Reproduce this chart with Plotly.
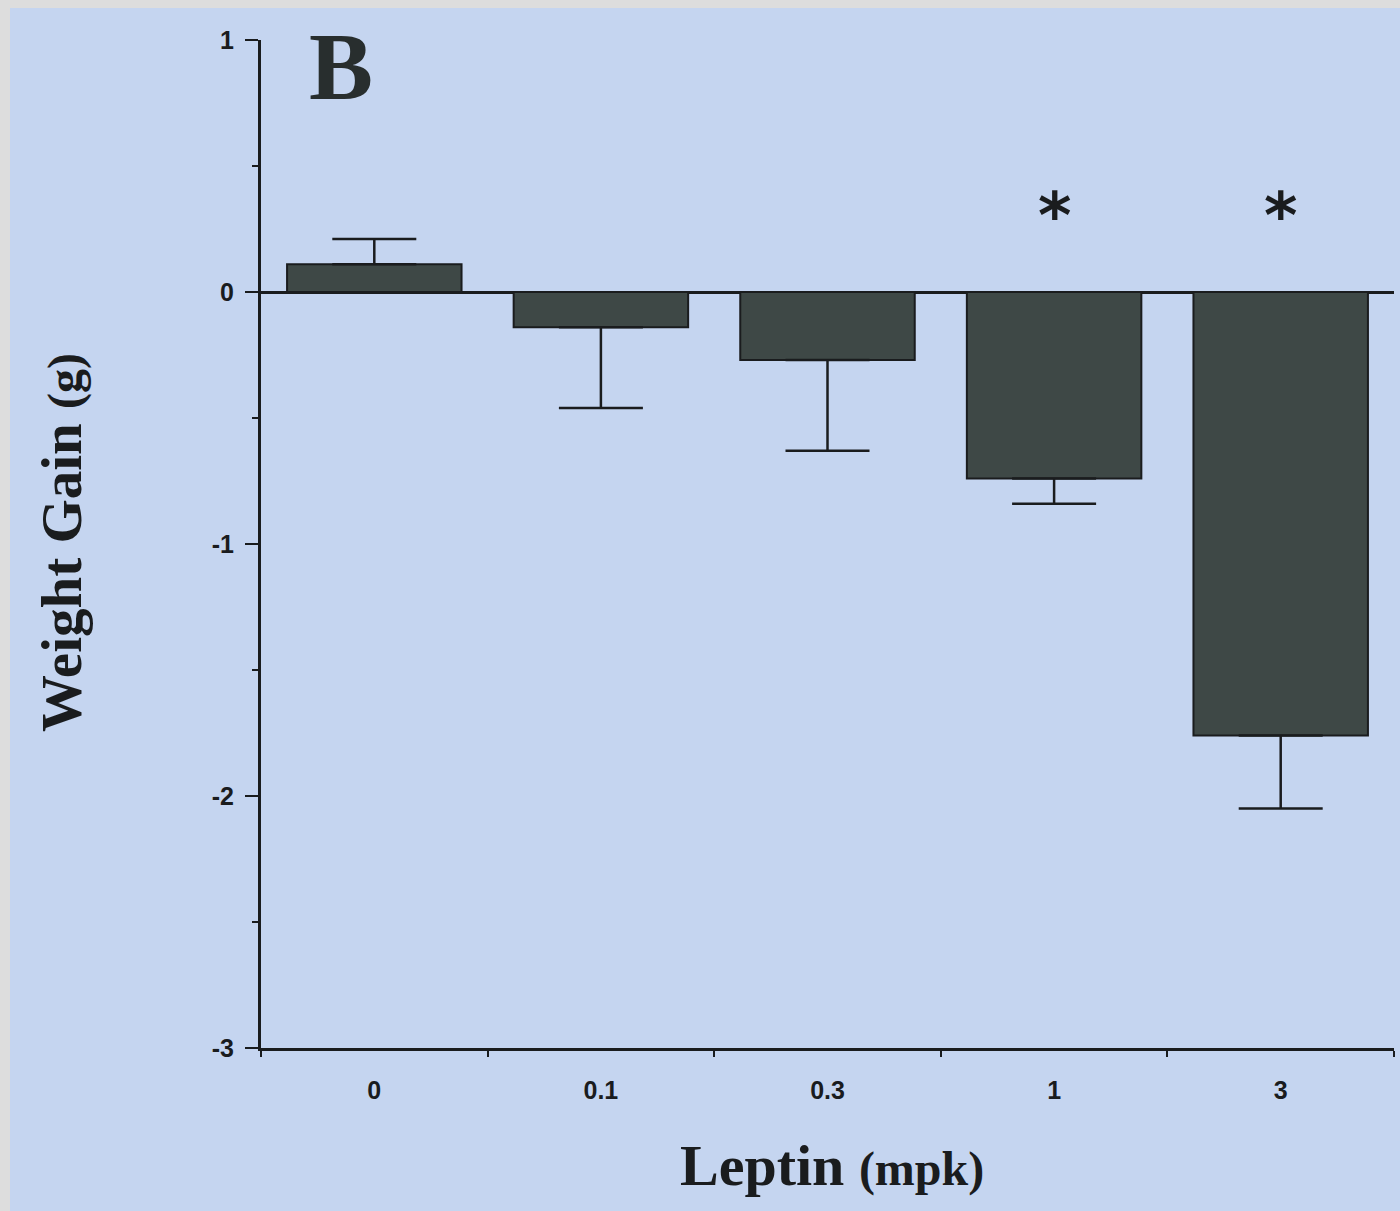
import plotly.graph_objects as go

# ---- data ----
doses = ["0", "0.1", "0.3", "1", "3"]
weight_gain = [0.11, -0.14, -0.27, -0.74, -1.76]
sem = [0.10, 0.32, 0.36, 0.10, 0.29]
significant = [False, False, False, True, True]
y_ticks = [1, 0, -1, -2, -3]

x_pos = list(range(len(doses)))
err_plus = [e if v > 0 else 0 for v, e in zip(weight_gain, sem)]
err_minus = [e if v <= 0 else 0 for v, e in zip(weight_gain, sem)]

BG = "rgb(197,213,240)"
BAR = "rgb(62,72,70)"
INK = "rgb(26,28,30)"

W, H = 1400, 1211
ML, MR, MT, MB = 261, 6, 40, 163
pw, ph = W - ML - MR, H - MT - MB

fig = go.Figure()
fig.add_trace(go.Bar(
    x=x_pos, y=weight_gain, width=0.77,
    marker=dict(color=BAR, line=dict(color=INK, width=2)),
    error_y=dict(type="data", symmetric=False, array=err_plus, arrayminus=err_minus,
                 color=INK, thickness=2.5, width=42),
    showlegend=False, hoverinfo="skip",
))

# significance asterisks
for xp, s in zip(x_pos, significant):
    if s:
        fig.add_annotation(x=xp, y=0.30, xref="x", yref="y", text="<b>*</b>", showarrow=False,
                           font=dict(family="DejaVu Sans", size=64, color=INK),
                           xanchor="center", yanchor="middle")

# panel letter
fig.add_annotation(x=(341 - ML) / pw, y=(H - MB - 66) / ph, xref="paper", yref="paper",
                   text="<b>B</b>", showarrow=False,
                   font=dict(family="Liberation Serif", size=96, color="rgb(40,46,46)"),
                   xanchor="center", yanchor="middle")

# axis titles
fig.add_annotation(x=(832 - ML) / pw, y=(H - MB - 1165) / ph, xref="paper", yref="paper",
                   text="<b>Leptin</b> <span style='font-size:48px'><b>(mpk)</b></span>",
                   showarrow=False,
                   font=dict(family="Liberation Serif", size=58, color=INK),
                   xanchor="center", yanchor="middle")
fig.add_annotation(x=(61 - ML) / pw, y=(H - MB - 543) / ph, xref="paper", yref="paper",
                   text="<b>Weight Gain</b> <span style='font-size:48px'><b>(g)</b></span>",
                   showarrow=False, textangle=-90,
                   font=dict(family="Liberation Serif", size=57, color=INK),
                   xanchor="center", yanchor="middle")

# scanned page border (grey strips on left and top)
fig.add_shape(type="rect", xref="paper", yref="paper",
              x0=-ML / pw, x1=(10 - ML) / pw, y0=-MB / ph, y1=(H - MB) / ph,
              fillcolor="rgb(221,221,221)", line=dict(width=0), layer="above")
fig.add_shape(type="rect", xref="paper", yref="paper",
              x0=-ML / pw, x1=(W - ML) / pw, y0=(H - MB - 8) / ph, y1=(H - MB) / ph,
              fillcolor="rgb(221,221,221)", line=dict(width=0), layer="above")

fig.update_xaxes(
    range=[-0.5, 4.5], tickmode="array", tickvals=x_pos, ticktext=doses,
    ticks="", showgrid=False, zeroline=False,
    showline=True, linecolor=INK, linewidth=3,
    ticklabelstandoff=18,
    tickfont=dict(family="Liberation Sans", size=25, color=INK, weight="bold"),
    minor=dict(tick0=0.5, dtick=1, ticks="outside", ticklen=6, tickwidth=2, tickcolor=INK, showgrid=False),
)
fig.update_yaxes(
    range=[-3, 1], tickmode="array", tickvals=y_ticks, ticktext=[str(t) for t in y_ticks],
    ticks="outside", ticklen=13, tickwidth=2, tickcolor=INK,
    showgrid=False, zeroline=True, zerolinecolor=INK, zerolinewidth=3,
    showline=True, linecolor=INK, linewidth=3,
    ticklabelstandoff=6,
    tickfont=dict(family="Liberation Sans", size=25, color=INK, weight="bold"),
    minor=dict(tickvals=[0.5, -0.5, -1.5, -2.5], ticks="outside", ticklen=6, tickwidth=2,
               tickcolor=INK, showgrid=False),
)

fig.update_layout(
    width=W, height=H,
    margin=dict(l=ML, r=MR, t=MT, b=MB, pad=0),
    paper_bgcolor=BG, plot_bgcolor=BG,
    bargap=0.23,
)

fig.write_html("out.html", config={"displayModeBar": False},
               post_script="document.body.style.margin='0px';")
